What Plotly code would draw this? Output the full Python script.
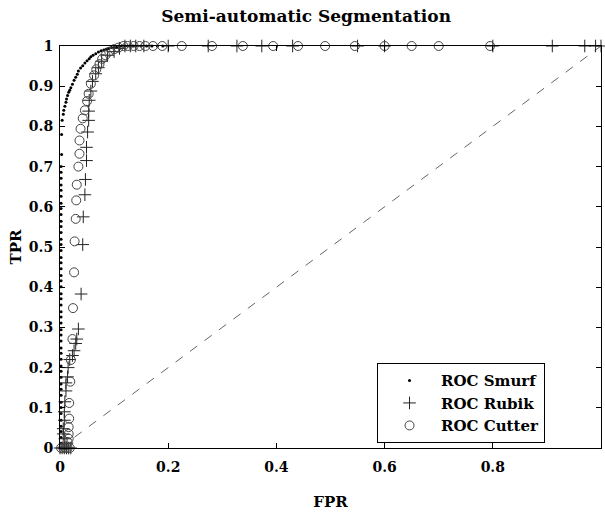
import plotly.graph_objects as go

# ---- data ----
smurf_fpr = [0.0, 0.003, 0.006, 0.009, 0.012,
             0.002, 0.002, 0.002, 0.002, 0.002, 0.002, 0.002, 0.002, 0.002, 0.002,
             0.002, 0.002, 0.002, 0.002, 0.002, 0.002, 0.002, 0.002, 0.002, 0.002,
             0.002, 0.002, 0.002, 0.002, 0.002, 0.002, 0.002, 0.002, 0.002, 0.002,
             0.002, 0.002, 0.002, 0.002, 0.002, 0.002, 0.002, 0.002, 0.002, 0.002,
             0.002, 0.002, 0.002, 0.002, 0.002, 0.002, 0.002, 0.003,
             0.003, 0.004, 0.006, 0.007, 0.009, 0.011, 0.012, 0.014, 0.016, 0.018,
             0.020, 0.023, 0.026, 0.029, 0.032, 0.034, 0.038, 0.042, 0.046, 0.050,
             0.054, 0.057, 0.061, 0.066, 0.071, 0.076, 0.081, 0.085, 0.090, 0.095,
             0.100, 0.105, 0.110, 0.115, 0.120, 0.125, 0.130, 0.135, 0.140, 0.150,
             0.160, 0.170, 0.180, 0.190]
smurf_tpr = [0.0, 0.0, 0.0, 0.0, 0.0,
             0.012, 0.026, 0.041, 0.054, 0.069, 0.086, 0.101, 0.114, 0.131, 0.146,
             0.159, 0.176, 0.191, 0.204, 0.221, 0.236, 0.249, 0.266, 0.281, 0.294,
             0.311, 0.326, 0.339, 0.356, 0.371, 0.384, 0.401, 0.416, 0.429, 0.446,
             0.461, 0.474, 0.491, 0.506, 0.519, 0.536, 0.551, 0.564, 0.581, 0.596,
             0.609, 0.626, 0.641, 0.654, 0.671, 0.686, 0.70, 0.73,
             0.78, 0.815, 0.83, 0.84, 0.85, 0.86, 0.868, 0.877, 0.885, 0.89,
             0.896, 0.905, 0.915, 0.922, 0.93, 0.938, 0.945, 0.951, 0.958, 0.963,
             0.968, 0.973, 0.977, 0.981, 0.985, 0.988, 0.99, 0.992, 0.994, 0.996,
             0.997, 0.998, 0.999, 1.0, 1.0, 1.0, 1.0, 1.0, 1.0, 1.0,
             1.0, 1.0, 1.0, 1.0]

rubik_fpr = [0.0, 0.004, 0.008, 0.012, 0.016, 0.020, 0.013, 0.009, 0.006, 0.006,
             0.008, 0.008, 0.009, 0.011, 0.011, 0.014, 0.015, 0.018, 0.023, 0.026,
             0.029, 0.031, 0.034, 0.039, 0.042, 0.043, 0.046, 0.047, 0.049, 0.049,
             0.051, 0.053, 0.053, 0.054, 0.057, 0.060, 0.066, 0.071, 0.077, 0.088,
             0.100, 0.110, 0.120, 0.130, 0.140, 0.155, 0.200, 0.274, 0.327, 0.373,
             0.430, 0.550, 0.600, 0.800, 0.910, 0.970, 0.990, 1.0]
rubik_tpr = [0.0, 0.0, 0.0, 0.0, 0.0, 0.0, 0.012, 0.023, 0.035, 0.048,
             0.069, 0.090, 0.115, 0.142, 0.162, 0.177, 0.200, 0.220, 0.230, 0.242,
             0.260, 0.271, 0.296, 0.383, 0.506, 0.575, 0.630, 0.668, 0.715, 0.748,
             0.786, 0.815, 0.838, 0.865, 0.888, 0.912, 0.931, 0.946, 0.962, 0.977,
             0.986, 0.994, 1.0, 1.0, 1.0, 1.0, 1.0, 1.0, 1.0, 1.0,
             1.0, 1.0, 1.0, 1.0, 1.0, 1.0, 1.0, 1.0]

cutter_fpr = [0.002, 0.006, 0.010, 0.014, 0.018, 0.014, 0.016, 0.016, 0.016, 0.017,
              0.017, 0.019, 0.020, 0.023, 0.024, 0.026, 0.027, 0.029, 0.030, 0.031,
              0.034, 0.036, 0.036, 0.038, 0.042, 0.046, 0.050, 0.053, 0.057, 0.063,
              0.067, 0.073, 0.078, 0.084, 0.091, 0.100, 0.108, 0.117, 0.125, 0.136,
              0.147, 0.158, 0.172, 0.189, 0.225, 0.281, 0.338, 0.394, 0.440, 0.490,
              0.545, 0.600, 0.650, 0.700, 0.795]
cutter_tpr = [0.0, 0.0, 0.0, 0.0, 0.0, 0.015, 0.023, 0.035, 0.052, 0.073,
              0.112, 0.165, 0.219, 0.271, 0.348, 0.437, 0.514, 0.570, 0.616, 0.655,
              0.700, 0.732, 0.765, 0.794, 0.820, 0.840, 0.863, 0.881, 0.906, 0.927,
              0.942, 0.955, 0.968, 0.977, 0.986, 0.992, 0.996, 1.0, 1.0, 1.0,
              1.0, 1.0, 1.0, 1.0, 1.0, 1.0, 1.0, 1.0, 1.0, 1.0,
              1.0, 1.0, 1.0, 1.0, 1.0]

diag = [0.0, 1.0]

x_ticks = [0, 0.2, 0.4, 0.6, 0.8, 1]
x_ticklabels = ["0", "0.2", "0.4", "0.6", "0.8", "1"]
y_ticks = [0, 0.1, 0.2, 0.3, 0.4, 0.5, 0.6, 0.7, 0.8, 0.9, 1]
y_ticklabels = ["0", "0.1", "0.2", "0.3", "0.4", "0.5", "0.6", "0.7", "0.8", "0.9", "1"]

FONT = "DejaVu Serif"

fig = go.Figure()
fig.add_trace(go.Scatter(x=diag, y=diag, mode="lines", showlegend=False,
                         line=dict(color="#666666", width=1, dash="dash"),
                         hoverinfo="skip"))
fig.add_trace(go.Scatter(x=smurf_fpr, y=smurf_tpr, mode="markers", name="ROC Smurf",
                         cliponaxis=False,
                         marker=dict(symbol="circle", size=3, color="black")))
fig.add_trace(go.Scatter(x=rubik_fpr, y=rubik_tpr, mode="markers", name="ROC Rubik",
                         cliponaxis=False,
                         marker=dict(symbol="cross-thin-open", size=9, color="#222222",
                                     line=dict(color="#222222", width=1))))
fig.add_trace(go.Scatter(x=cutter_fpr, y=cutter_tpr, mode="markers", name="ROC Cutter",
                         cliponaxis=False,
                         marker=dict(symbol="circle-open", size=9, color="#444444",
                                     line=dict(color="#444444", width=1))))

axis_common = dict(showgrid=False, zeroline=False, showline=True, linecolor="black",
                   linewidth=1, mirror="ticks", ticks="inside", ticklen=5,
                   tickcolor="black", automargin=False,
                   tickfont=dict(family=FONT, size=14, color="black", weight="bold"))

fig.update_layout(
    width=605, height=512,
    margin=dict(l=60, r=4, t=46, b=64),
    plot_bgcolor="white", paper_bgcolor="white",
    hovermode=False,
    title=dict(text="Semi-automatic Segmentation", x=0.506, xanchor="center",
               y=0.968, yanchor="middle", automargin=False,
               font=dict(family=FONT, size=17, color="black", weight="bold")),
    xaxis=dict(range=[0, 1], tickvals=x_ticks, ticktext=x_ticklabels,
               ticklabelstandoff=6,
               title=dict(text="FPR", standoff=22,
                          font=dict(family=FONT, size=15, color="black", weight="bold")),
               **axis_common),
    yaxis=dict(range=[0, 1], tickvals=y_ticks, ticktext=y_ticklabels,
               ticklabelstandoff=3,
               title=dict(text="TPR", standoff=3,
                          font=dict(family=FONT, size=15, color="black", weight="bold")),
               **axis_common),
    legend=dict(x=0.586, y=0.211, xanchor="left", yanchor="top",
                bordercolor="black", borderwidth=1, bgcolor="white",
                itemwidth=53,
                font=dict(family=FONT, size=15, color="black", weight="bold")),
)

# remove the page's default 8px body margin so the figure fills the window exactly
fig.write_html("out.html",
               config={"displayModeBar": False},
               post_script="document.body.style.margin='0px';document.body.style.overflow='hidden';")
